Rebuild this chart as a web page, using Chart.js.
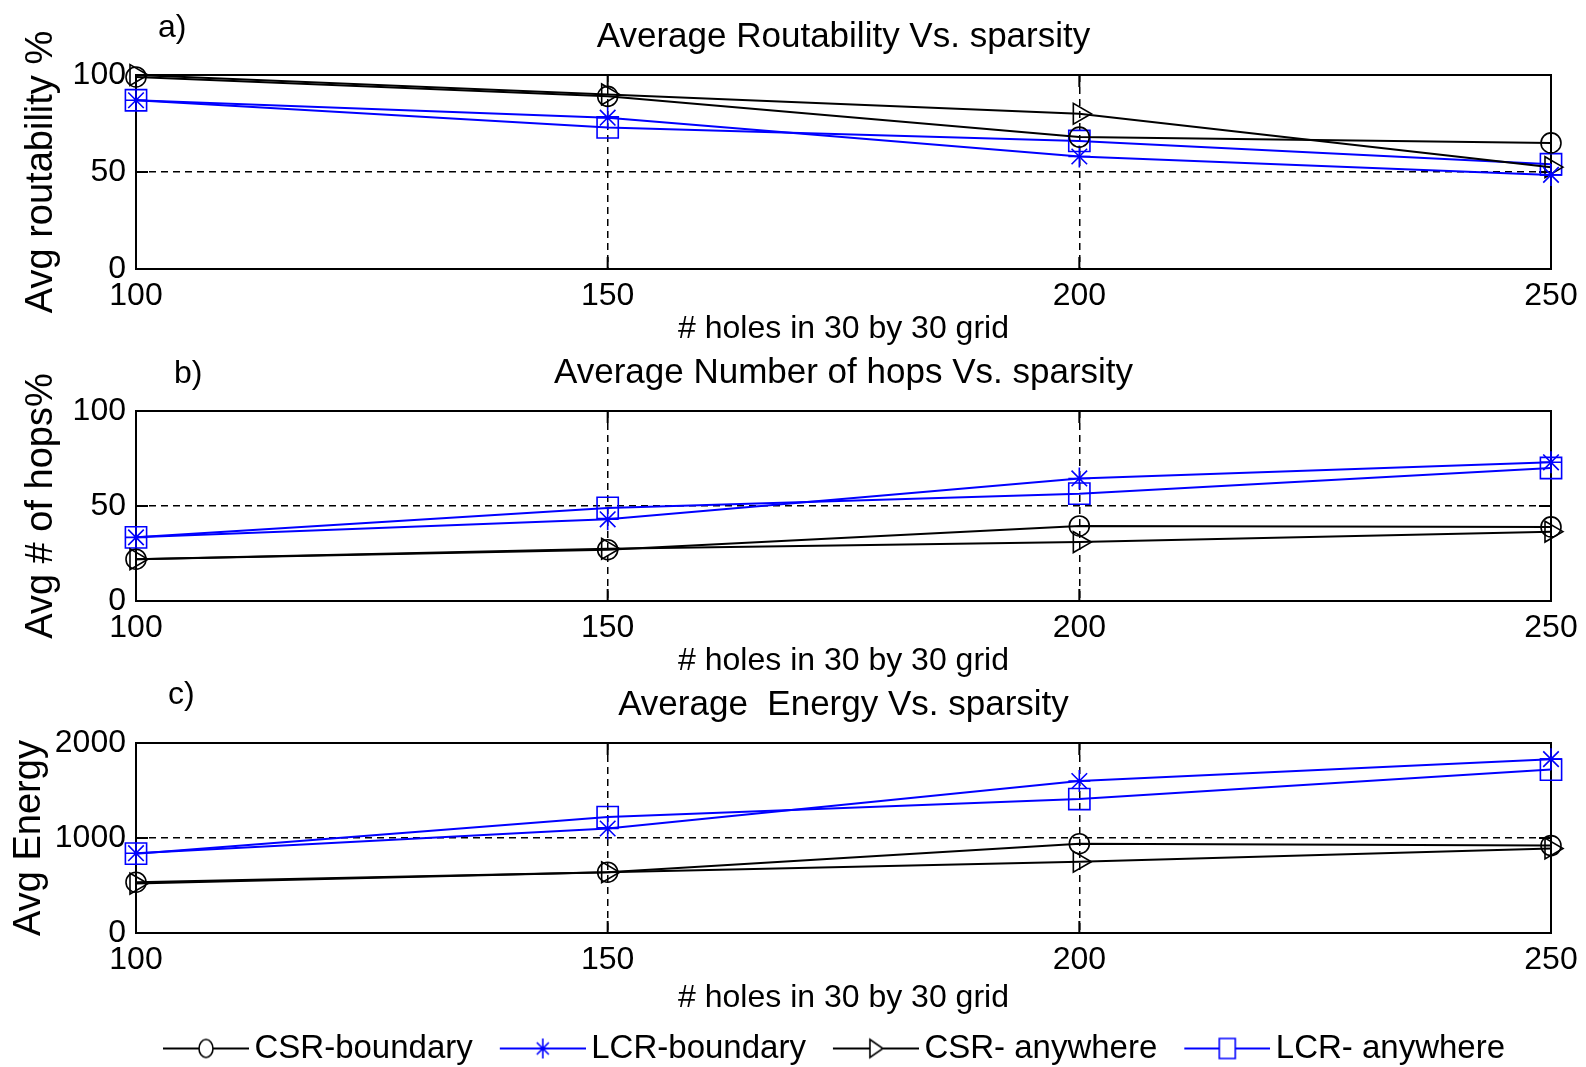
<!DOCTYPE html>
<html><head><meta charset="utf-8">
<script src="https://cdn.jsdelivr.net/npm/chart.js@4.4.1/dist/chart.umd.min.js"></script>
<style>
html,body{margin:0;padding:0;background:#fff;overflow:hidden;width:1586px;height:1067px;}
.box{position:absolute;left:0;width:1586px;}
canvas{display:block;}
</style></head><body>
<div class="box" style="top:0;height:345px"><canvas id="cA"></canvas></div>
<div class="box" style="top:345px;height:335px"><canvas id="cB"></canvas></div>
<div class="box" style="top:674px;height:401px"><canvas id="cC"></canvas></div>
<script>
// ---------- data ----------
const holes = [100, 150, 200, 250];
const seriesNames = ['CSR-boundary', 'LCR-boundary', 'CSR- anywhere', 'LCR- anywhere'];

const routCSRBoundary = [99, 89, 68, 65];
const routLCRBoundary = [87, 78, 58, 48.5];
const routCSRAnywhere = [100, 90, 80, 52.5];
const routLCRAnywhere = [87, 73, 66, 54];

const hopsCSRBoundary = [22, 27, 39.5, 39];
const hopsLCRBoundary = [33.5, 43, 64.5, 73];
const hopsCSRAnywhere = [22, 27.5, 31, 36.5];
const hopsLCRAnywhere = [33.5, 49, 56.5, 70];

const energyCSRBoundary = [535, 640, 940, 920];
const energyLCRBoundary = [840, 1100, 1600, 1830];
const energyCSRAnywhere = [520, 640, 750, 890];
const energyLCRAnywhere = [835, 1220, 1410, 1720];

const yTicksRout = [0, 50, 100];
const yTicksHops = [0, 50, 100];
const yTicksEnergy = [0, 1000, 2000];

// ---------- styles ----------
const FONT = '"Liberation Sans", Arial, sans-serif';
const TICKFONT = '"Liberation Sans Narrow", "Arial Narrow", "Liberation Sans", Arial, sans-serif';
const BLUE = '#0000ff';
const seriesStyle = [
  {color: '#000', pointStyle: 'circle', radius: 10, rotation: 0},
  {color: BLUE, pointStyle: 'star', radius: 11, rotation: 0},
  {color: '#000', pointStyle: 'triangle', radius: 12, rotation: 90},
  {color: BLUE, pointStyle: 'rect', radius: 15, rotation: 0}
];

function buildDatasets(arrs) {
  return arrs.map((vals, i) => ({
    label: seriesNames[i],
    data: holes.map((h, j) => ({x: h, y: vals[j]})),
    borderColor: seriesStyle[i].color,
    borderWidth: 2,
    pointStyle: seriesStyle[i].pointStyle,
    pointRadius: seriesStyle[i].radius,
    pointHoverRadius: seriesStyle[i].radius,
    pointRotation: seriesStyle[i].rotation,
    pointBorderColor: seriesStyle[i].color,
    pointBackgroundColor: 'rgba(0,0,0,0)',
    pointBorderWidth: 1.6,
    tension: 0,
    fill: false,
    clip: false
  }));
}

// legend icon: line with marker, drawn at the right part of the image
function makeIcon(i) {
  const c = document.createElement('canvas');
  c.width = 106; c.height = 34;
  const g = c.getContext('2d');
  const s = seriesStyle[i];
  g.strokeStyle = s.color; g.lineWidth = 2;
  g.beginPath(); g.moveTo(20, 17); g.lineTo(106, 17); g.stroke();
  const cx = 63, cy = 17;
  g.lineWidth = 1.6;
  g.beginPath();
  if (s.pointStyle === 'circle') {
    g.ellipse(cx, cy, 7, 9, 0, 0, Math.PI * 2);
    g.fillStyle = '#fff'; g.fill();
  } else if (s.pointStyle === 'star') {
    g.moveTo(cx, cy - 10); g.lineTo(cx, cy + 10);
    g.moveTo(cx - 6, cy - 6); g.lineTo(cx + 6, cy + 6);
    g.moveTo(cx + 6, cy - 6); g.lineTo(cx - 6, cy + 6);
  } else if (s.pointStyle === 'triangle') {
    g.moveTo(cx - 6, cy - 9); g.lineTo(cx + 7, cy); g.lineTo(cx - 6, cy + 9); g.closePath();
    g.fillStyle = '#fff'; g.fill();
  } else {
    g.rect(cx - 8, cy - 10, 16, 20);
    g.fillStyle = '#fff'; g.fill();
  }
  g.stroke();
  return c;
}

const framePlugin = {
  id: 'frame',
  beforeDatasetsDraw(chart) {
    const {ctx, chartArea: a, scales} = chart;
    const x = scales.x, y = scales.y;
    ctx.save();
    ctx.setLineDash([]);
    ctx.strokeStyle = '#000';
    ctx.lineWidth = 2;
    ctx.strokeRect(a.left, a.top, a.right - a.left, a.bottom - a.top);
    const tl = 12;
    ctx.beginPath();
    x.ticks.forEach(t => {
      const px = x.getPixelForValue(t.value);
      ctx.moveTo(px, a.bottom); ctx.lineTo(px, a.bottom - tl);
      ctx.moveTo(px, a.top); ctx.lineTo(px, a.top + tl);
    });
    y.ticks.forEach(t => {
      const py = y.getPixelForValue(t.value);
      ctx.moveTo(a.left, py); ctx.lineTo(a.left + tl, py);
      ctx.moveTo(a.right, py); ctx.lineTo(a.right - tl, py);
    });
    ctx.stroke();
    ctx.restore();
  },
  afterDraw(chart, args, opts) {
    const {ctx, chartArea: a} = chart;
    ctx.save();
    ctx.fillStyle = '#000';
    ctx.textBaseline = 'alphabetic';
    ctx.font = '32px ' + FONT;
    ctx.textAlign = 'left';
    ctx.fillText(opts.label, opts.labelX, opts.labelY);
    ctx.font = '35px ' + FONT;
    ctx.textAlign = 'center';
    ctx.fillText(opts.title, (a.left + a.right) / 2, opts.titleY);
    ctx.restore();
  }
};

function makeOptions(cfg) {
  return {
    responsive: true,
    maintainAspectRatio: false,
    animation: false,
    events: [],
    layout: {padding: {left: cfg.padLeft, right: 35, top: cfg.padTop, bottom: cfg.padBottom}},
    scales: {
      x: {
        type: 'linear', min: holes[0], max: holes[holes.length - 1],
        afterBuildTicks(s) { s.ticks = holes.map(v => ({value: v})); },
        afterFit(s) { s.height = cfg.xHeight; },
        ticks: {color: '#000', font: {family: TICKFONT, size: 32, lineHeight: 1.2}, padding: 8, maxRotation: 0, autoSkip: false,
                callback: v => String(v)},
        grid: {color: '#000', lineWidth: 1.5, drawTicks: false},
        border: {display: true, color: '#000', width: 2, dash: [7, 5]},
        title: {display: true, text: '# holes in 30 by 30 grid', color: '#000', padding: 0,
                font: {family: FONT, size: 32, lineHeight: 1}}
      },
      y: {
        type: 'linear', min: cfg.yTicks[0], max: cfg.yTicks[cfg.yTicks.length - 1],
        afterBuildTicks(s) { s.ticks = cfg.yTicks.map(v => ({value: v})); },
        afterFit(s) { s.width = 136 - cfg.padLeft; },
        ticks: {color: '#000', font: {family: TICKFONT, size: 32, lineHeight: 1.2}, padding: 10, autoSkip: false,
                callback: v => String(v)},
        grid: {color: '#000', lineWidth: 1.5, drawTicks: false},
        border: {display: true, color: '#000', width: 2, dash: [7, 5]},
        title: {display: true, text: cfg.yTitle, color: '#000', padding: 0,
                font: {family: FONT, size: 38, lineHeight: 1}}
      }
    },
    plugins: {
      legend: cfg.legend || {display: false},
      tooltip: {enabled: false},
      title: {display: false},
      frame: {label: cfg.label, labelX: cfg.labelX, labelY: cfg.labelY, title: cfg.title, titleY: cfg.titleY}
    }
  };
}

new Chart(document.getElementById('cA'), {
  type: 'line',
  data: {datasets: buildDatasets([routCSRBoundary, routLCRBoundary, routCSRAnywhere, routLCRAnywhere])},
  options: makeOptions({padLeft: 23, padTop: 75, padBottom: 0, xHeight: 76, yTicks: yTicksRout, yTitle: 'Avg routability %',
    label: 'a)', labelX: 158, labelY: 37, title: 'Average Routability Vs. sparsity', titleY: 47}),
  plugins: [framePlugin]
});

new Chart(document.getElementById('cB'), {
  type: 'line',
  data: {datasets: buildDatasets([hopsCSRBoundary, hopsLCRBoundary, hopsCSRAnywhere, hopsLCRAnywhere])},
  options: makeOptions({padLeft: 23, padTop: 66, padBottom: 3, xHeight: 76, yTicks: yTicksHops, yTitle: 'Avg # of hops%',
    label: 'b)', labelX: 174, labelY: 38, title: 'Average Number of hops Vs. sparsity', titleY: 38}),
  plugins: [framePlugin]
});

const icons = [0, 1, 2, 3].map(makeIcon);
new Chart(document.getElementById('cC'), {
  type: 'line',
  data: {datasets: buildDatasets([energyCSRBoundary, energyLCRBoundary, energyCSRAnywhere, energyLCRAnywhere])},
  options: makeOptions({padLeft: 11, padTop: 69, padBottom: 0, xHeight: 81, yTicks: yTicksEnergy, yTitle: 'Avg Energy',
    label: 'c)', labelX: 168, labelY: 30, title: 'Average  Energy Vs. sparsity', titleY: 41,
    legend: {
      display: true, position: 'bottom', fullSize: false, align: 'start',
      labels: {
        color: '#000', font: {family: FONT, size: 33}, usePointStyle: true, pointStyleWidth: 84, padding: 18,
        generateLabels: () => seriesNames.map((n, i) => ({
          text: n, pointStyle: icons[i], fillStyle: 'rgba(0,0,0,0)', strokeStyle: 'rgba(0,0,0,0)',
          lineWidth: 1, hidden: false, datasetIndex: i, fontColor: '#000'
        }))
      }
    }}),
  plugins: [framePlugin]
});
</script>
</body></html>
